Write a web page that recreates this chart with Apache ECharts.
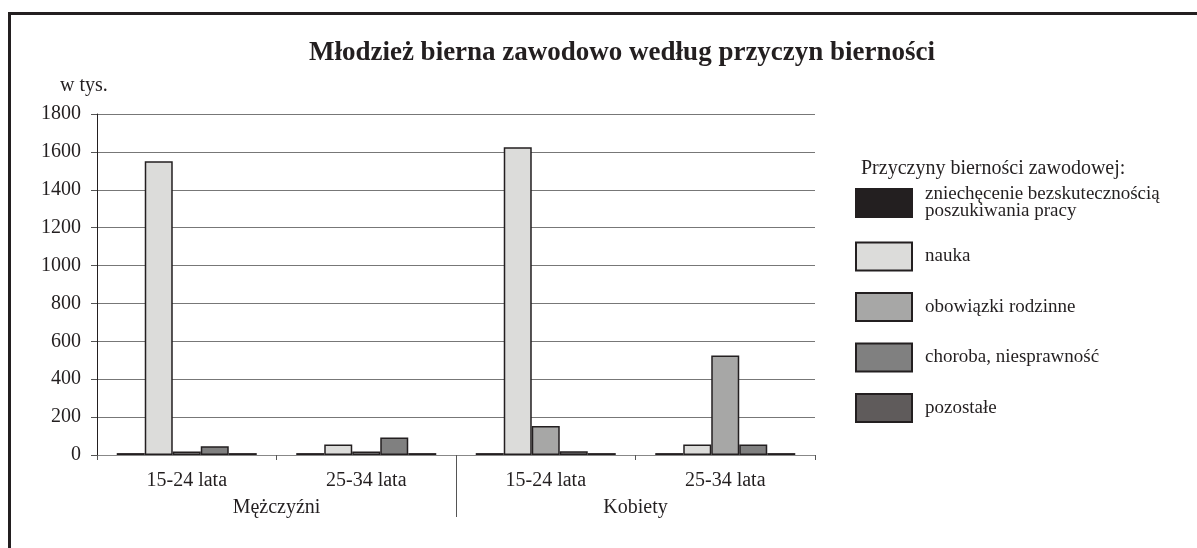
<!DOCTYPE html>
<html>
<head>
<meta charset="utf-8">
<script src="https://cdn.jsdelivr.net/npm/echarts@6/dist/echarts.min.js"></script>
<style>
  html, body { margin: 0; padding: 0; background: #fff; }
  #chart { width: 1197px; height: 548px; }
</style>
</head>
<body>
<div id="chart"></div>
<script>
// data (w tys.)
const ageGroups = ['15-24 lata', '25-34 lata', '15-24 lata', '25-34 lata']
const sexes = ['Mężczyźni', 'Kobiety']
const reasons = [
  'zniechęcenie bezskutecznością\nposzukiwania pracy',
  'nauka',
  'obowiązki rodzinne',
  'choroba, niesprawność',
  'pozostałe'
]
const zniechecenie = [10, 10, 10, 10]
const nauka = [1550, 55, 1625, 55]
const obowiazki = [18, 18, 153, 525]
const choroba = [46, 92, 20, 55]
const pozostale = [10, 10, 10, 10]
const yTicks = [0, 200, 400, 600, 800, 1000, 1200, 1400, 1600, 1800]

const colors = ['#231f20', '#dcdcda', '#a7a7a6', '#808080', '#5f5b5b']
const font = 'Liberation Serif'
const textColor = '#231f20'

const seriesData = [zniechecenie, nauka, obowiazki, choroba, pozostale]

const chart = echarts.init(document.getElementById('chart'))
chart.setOption({
  animation: false,
  color: colors,
  textStyle: { fontFamily: font, color: textColor },
  title: [
    {
      text: 'Młodzież bierna zawodowo według przyczyn bierności',
      left: 617, top: 35, textAlign: 'center',
      textStyle: { fontFamily: font, fontSize: 27, fontWeight: 'bold', color: textColor }
    },
    {
      text: 'Przyczyny bierności zawodowej:',
      left: 856, top: 154,
      textStyle: { fontFamily: font, fontSize: 20, fontWeight: 'normal', color: textColor }
    },
    {
      text: 'w tys.',
      left: 55, top: 71,
      textStyle: { fontFamily: font, fontSize: 20, fontWeight: 'normal', color: textColor }
    }
  ],
  graphic: [{
    type: 'rect',
    left: 7, top: 11,
    shape: { width: 1400, height: 800 },
    style: { fill: 'none', stroke: '#231f20', lineWidth: 3 },
    silent: true
  }],
  legend: {
    orient: 'vertical',
    left: 850, top: 180,
    itemWidth: 56, itemHeight: 28, itemGap: 20.5,
    icon: 'rect',
    data: reasons,
    textStyle: { fontFamily: font, fontSize: 19, color: textColor, lineHeight: 17, padding: [0, 0, 0, 8] }
  },
  grid: { left: 97, right: 382, top: 114, bottom: 93 },
  xAxis: [
    {
      type: 'category',
      data: ageGroups,
      axisLine: { lineStyle: { color: '#888', width: 1 } },
      axisTick: { show: true, length: 5, lineStyle: { color: '#555' } },
      axisLabel: { fontFamily: font, fontSize: 20, color: textColor, margin: 16 }
    },
    {
      type: 'value',
      position: 'bottom',
      min: 0, max: sexes.length,
      axisLine: { show: false },
      splitLine: { show: false },
      axisTick: { show: true, customValues: [1], length: 62, lineStyle: { color: '#555' } },
      axisLabel: {
        customValues: [0.5, 1.5],
        formatter: (v) => sexes[Math.floor(v)],
        fontFamily: font, fontSize: 20, color: textColor, margin: 43
      }
    }
  ],
  yAxis: {
    type: 'value',
    min: 0, max: 1800, interval: 200,
    axisLine: { show: true, lineStyle: { color: '#231f20', width: 1 } },
    axisTick: { show: true, length: 6, lineStyle: { color: '#555' } },
    axisLabel: {
      fontFamily: font, fontSize: 20, color: textColor, margin: 16,
      formatter: (v) => yTicks.includes(v) ? String(v) : ''
    },
    splitLine: { lineStyle: { color: '#777', width: 1 } }
  },
  series: reasons.map((name, i) => ({
    name: name,
    type: 'bar',
    xAxisIndex: 0,
    barGap: '0%',
    barCategoryGap: '22%',
    itemStyle: { color: colors[i], borderColor: '#231f20', borderWidth: 1.5 },
    data: seriesData[i]
  }))
})
</script>
</body>
</html>
